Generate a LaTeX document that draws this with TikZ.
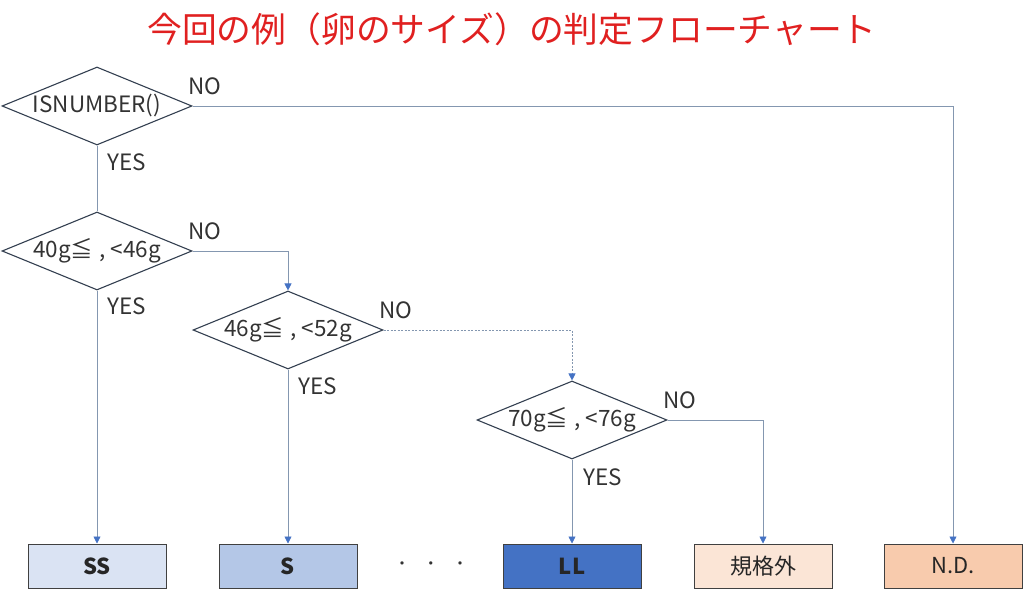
\documentclass[tikz,border=0pt]{standalone}
\usepackage{fontspec}
\setmainfont{Noto Sans CJK JP}
\usetikzlibrary{shapes.geometric,arrows.meta}
\definecolor{conn}{HTML}{8497B0}
\definecolor{arr}{HTML}{4472C4}
\definecolor{dia}{HTML}{333F50}
\definecolor{boxline}{HTML}{404040}
\definecolor{ssfill}{HTML}{DAE3F3}
\definecolor{sfill}{HTML}{B4C7E7}
\definecolor{llfill}{HTML}{4472C4}
\definecolor{kfill}{HTML}{FBE5D6}
\definecolor{ndfill}{HTML}{F8CBAD}
\definecolor{titlered}{HTML}{E02020}
\tikzset{
  decision/.style={diamond, draw=dia, line width=1.1pt, minimum width=190pt, minimum height=78pt, inner sep=0pt},
  dtext/.style={inner sep=0pt, text=black!80, font=\fontsize{22.5}{26}\selectfont},
  result/.style={rectangle, draw=boxline, line width=1pt, minimum width=138pt, minimum height=44pt, inner sep=0pt, font=\fontsize{22}{26}\selectfont, text=black!85},
  link/.style={draw=conn, line width=0.7pt},
  linkarrow/.style={link, -{Triangle[length=7pt,width=7pt,color=arr]}},
  lbl/.style={font=\fontsize{22.5}{26}\selectfont, text=black!80, inner sep=0pt}
}
\begin{document}
\begin{tikzpicture}[x=1pt,y=-1pt]
\useasboundingbox (0,0) rectangle (1024,593);
\node[font=\fontsize{34.8}{40}\selectfont, text=titlered] (title) at (512,29) {今回の例（卵のサイズ）の判定フローチャート};

\node[decision] (d1) at (97,106) {};
\node[decision] (d2) at (97,251) {};
\node[decision] (d3) at (288,330) {};
\node[decision] (d4) at (572,420) {};
\node[dtext] (t1) at (d1) {ISNUMBER()};
\node[dtext] (t2) at (d2) {40g≦\hspace{6pt},\hspace{5pt}<46g};
\node[dtext] (t3) at (d3) {46g≦\hspace{6pt},\hspace{5pt}<52g};
\node[dtext] (t4) at (d4) {70g≦\hspace{6pt},\hspace{5pt}<76g};

\node[result, fill=ssfill, font=\fontsize{22}{26}\selectfont\bfseries] (ss) at (97,566) {SS};
\node[result, fill=sfill, font=\fontsize{22}{26}\selectfont\bfseries] (s) at (288,566) {S};
\node[result, fill=llfill, font=\fontsize{22}{26}\selectfont\bfseries] (ll) at (572,566) {LL};
\node[result, fill=kfill] (kk) at (763,566) {規格外};
\node[result, fill=ndfill] (nd) at (953,566) {N.D.};
\node[lbl, font=\fontsize{16}{20}\selectfont] (dots) at (431,566) {・\hspace{13pt}・\hspace{13pt}・};

% connectors
\draw[linkarrow] (d1.east) -| (nd.north);
\draw[link] (d1.south) -- (d2.north);
\draw[linkarrow] (d2.east) -| (d3.north);
\draw[linkarrow] (d2.south) -- (ss.north);
\draw[linkarrow, dashed, dash pattern=on 2pt off 1.5pt] (d3.east) -| (d4.north);
\draw[linkarrow] (d3.south) -- (s.north);
\draw[linkarrow] (d4.east) -| (kk.north);
\draw[linkarrow] (d4.south) -- (ll.north);

% labels
\node[lbl] (no1) at (205,86) {NO};
\node[lbl] (yes1) at (127,162) {YES};
\node[lbl] (no2) at (205,231) {NO};
\node[lbl] (yes2) at (127,306) {YES};
\node[lbl] (no3) at (396,310) {NO};
\node[lbl] (yes3) at (318,386) {YES};
\node[lbl] (no4) at (680,400) {NO};
\node[lbl] (yes4) at (603,477) {YES};
\end{tikzpicture}
\end{document}
